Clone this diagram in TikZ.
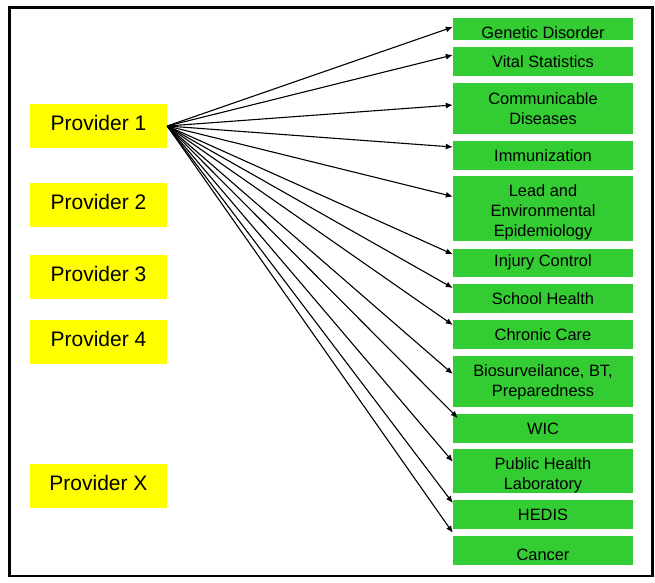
\documentclass[tikz,border=0pt]{standalone}
\usepackage{fontspec}
\setmainfont{Liberation Sans}
\usetikzlibrary{arrows.meta}
\definecolor{provyellow}{RGB}{255,255,0}
\definecolor{unitgreen}{RGB}{51,204,51}
\begin{document}
\begin{tikzpicture}[x=1pt,y=-1pt,
  provbox/.style={fill=provyellow,draw=none,minimum width=137pt,minimum height=44pt,inner sep=0pt,
    font=\fontsize{21}{25}\selectfont,text depth=7pt},
  unitbox/.style={fill=unitgreen,draw=none,minimum width=180pt,inner sep=0pt,align=center,
    font=\fontsize{16.4}{19.7}\selectfont},
  link/.style={line width=1.1pt,-{Latex[length=7pt,width=6pt]}}]
\useasboundingbox (0,0) rectangle (655,582);
\draw[line width=2.4pt] (9.5,7.5) rectangle (652.5,576);
% providers
\node[provbox] (p1) at (98.5,126) {Provider 1};
\node[provbox] (p2) at (98.5,205) {Provider 2};
\node[provbox] (p3) at (98.5,277) {Provider 3};
\node[provbox] (p4) at (98.5,342) {Provider 4};
\node[provbox] (px) at (98.5,486) {Provider X};
% units
\node[unitbox,minimum height=22pt,text height=19.5pt] (gd) at (543,29) {Genetic Disorder};
\node[unitbox,minimum height=29pt] (vs) at (543,61.5) {Vital Statistics};
\node[unitbox,minimum height=51pt] (cd) at (543,108.5) {Communicable\\Diseases};
\node[unitbox,minimum height=29pt] (im) at (543,155.5) {Immunization};
\node[unitbox,minimum height=65pt,text height=60pt,text depth=5pt] (le) at (543,208.5) {Lead and\\Environmental\\Epidemiology};
\node[unitbox,minimum height=28.5pt] (ic) at (543,262.75) {Injury Control};
\node[unitbox,minimum height=29pt] (sh) at (543,298.5) {School Health};
\node[unitbox,minimum height=29pt] (cc) at (543,334.5) {Chronic Care};
\node[unitbox,minimum height=51pt,text height=38pt,text depth=9pt] (bi) at (543,381.5) {Biosurveilance, BT,\\Preparedness};
\node[unitbox,minimum height=29pt] (wic) at (543,428.5) {WIC};
\node[unitbox,minimum height=44pt,text height=40pt,text depth=4pt] (ph) at (543,471) {Public Health\\Laboratory};
\node[unitbox,minimum height=29pt] (he) at (543,514.5) {HEDIS};
\node[unitbox,minimum height=29pt,text height=21pt] (ca) at (543,550.5) {Cancer};
% connectors
\draw[link] (p1.east) -- ([yshift=2pt]gd.west);
\draw[link] (p1.east) -- ([yshift=6.5pt]vs.west);
\draw[link] (p1.east) -- ([yshift=3.5pt]cd.west);
\draw[link] (p1.east) -- ([yshift=8.5pt]im.west);
\draw[link] (p1.east) -- ([yshift=12pt]le.west);
\draw[link] (p1.east) -- ([yshift=8.5pt]ic.west);
\draw[link] (p1.east) -- ([yshift=10.5pt]sh.west);
\draw[link] (p1.east) -- ([yshift=9.5pt]cc.west);
\draw[link] (p1.east) -- ([yshift=7.5pt]bi.west);
\draw[link] (p1.east) -- ([xshift=5pt,yshift=10.5pt]wic.west);
\draw[link] (p1.east) -- ([yshift=9.3pt]ph.west);
\draw[link] (p1.east) -- ([yshift=11.5pt]he.west);
\draw[link] (p1.east) -- ([yshift=3pt]ca.north west);
\end{tikzpicture}
\end{document}
